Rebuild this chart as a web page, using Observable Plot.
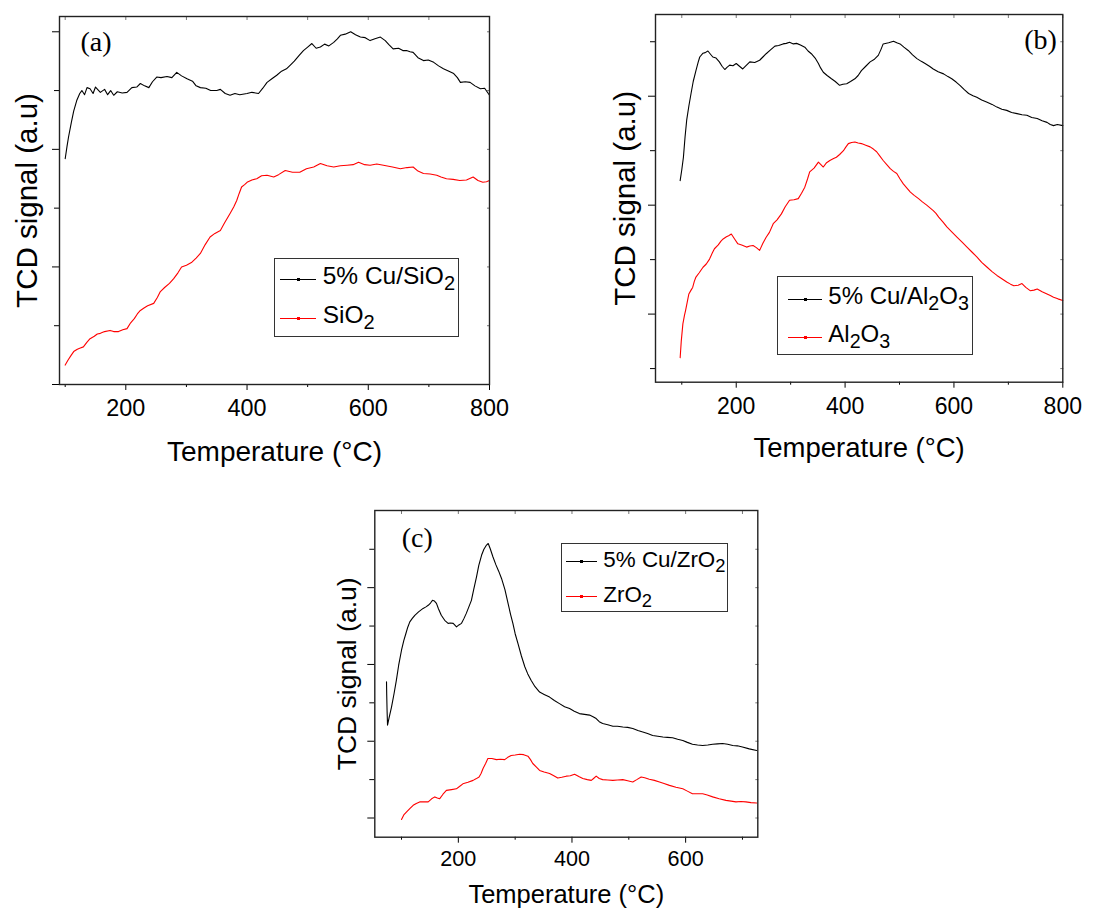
<!DOCTYPE html>
<html><head><meta charset="utf-8">
<script src="https://cdn.jsdelivr.net/npm/d3@7"></script>
<script src="https://cdn.jsdelivr.net/npm/@observablehq/plot@0.6"></script>
<style>
body{margin:0;background:#fff;width:1112px;height:912px;position:relative;overflow:hidden;font-family:"Liberation Sans",Arial,sans-serif;}
.panel{position:absolute;}
.legend{position:absolute;border:1.3px solid #333;background:#fff;box-sizing:border-box;}
.sw{position:absolute;height:0;border-top:1.2px solid;}
.dot{position:absolute;width:3px;height:3px;}
.lb{position:absolute;white-space:nowrap;line-height:1;color:#000;}
sub{font-size:82%;vertical-align:-0.28em;line-height:0}
</style></head><body>
<script>
// ---------- DATA ----------
const xLabelText = "Temperature (°C)";
const yLabelText = "TCD signal (a.u)";
const tags = ["(a)", "(b)", "(c)"];
const legendA = ["5% Cu/SiO<sub>2</sub>", "SiO<sub>2</sub>"];
const legendB = ["5% Cu/Al<sub>2</sub>O<sub>3</sub>", "Al<sub>2</sub>O<sub>3</sub>"];
const legendC = ["5% Cu/ZrO<sub>2</sub>", "ZrO<sub>2</sub>"];
const xMajorTicks = [200, 400, 600, 800];
const xMinorTicks = [100, 300, 500, 700];

// Panel (a): 5% Cu/SiO2 and SiO2
const aCu = [[100,3.84],[103,4.05],[105.5,4.21],[110,4.45],[114,4.65],[119,4.83],[124,4.95],[127.5,5.0],[132,4.93],[136,5.05],[141,5.03],[146,4.95],[150,5.06],[158,4.97],[165,5.02],[170,4.93],[175,5.0],[180,4.92],[186,4.98],[194,4.96],[202,4.97],[210,5.05],[218,5.06],[224,5.12],[231,5.08],[238,5.05],[244,5.15],[251,5.23],[258,5.22],[268,5.24],[276,5.22],[284,5.31],[292,5.25],[301,5.2],[310,5.16],[316,5.08],[323,5.05],[332,5.04],[340,5.0],[350,5.0],[356,5.02],[364,4.95],[372,4.92],[380,4.95],[388,4.93],[400,4.95],[408,4.97],[419,4.95],[426,5.04],[433,5.14],[441,5.2],[449,5.26],[457,5.33],[465,5.37],[471,5.43],[478,5.5],[486,5.6],[493,5.68],[500,5.74],[507,5.8],[514,5.72],[521,5.74],[528,5.79],[535,5.76],[543,5.82],[549,5.88],[554,5.94],[562,5.96],[571,6.0],[579,5.95],[587,5.91],[595,5.9],[603,5.85],[611,5.88],[620,5.91],[628,5.85],[634,5.78],[641,5.71],[650,5.72],[657,5.68],[663,5.68],[669,5.66],[674,5.65],[682,5.56],[691,5.51],[699,5.52],[708,5.48],[716,5.42],[724,5.37],[733,5.33],[741,5.29],[747,5.22],[752,5.14],[760,5.15],[768,5.14],[776,5.08],[785,5.03],[792,5.04],[800,4.92]];
const aSi = [[100,0.33],[105,0.42],[110,0.5],[114,0.56],[120,0.6],[125,0.62],[130,0.64],[136,0.72],[141,0.78],[148,0.82],[153,0.86],[158,0.87],[165,0.9],[174,0.92],[180,0.9],[188,0.9],[195,0.93],[202,0.95],[208,1.05],[214,1.12],[219,1.2],[224,1.26],[230,1.3],[236,1.34],[246,1.38],[252,1.48],[257,1.58],[264,1.65],[272,1.72],[279,1.8],[286,1.9],[292,2.0],[300,2.03],[309,2.08],[316,2.15],[323,2.23],[331,2.38],[339,2.51],[347,2.57],[356,2.62],[363,2.75],[372,2.91],[378,3.02],[383,3.13],[387,3.25],[391,3.36],[396,3.4],[400,3.44],[408,3.48],[416,3.5],[424,3.55],[433,3.56],[444,3.53],[452,3.57],[463,3.64],[475,3.61],[487,3.61],[498,3.67],[510,3.7],[521,3.76],[532,3.72],[543,3.7],[554,3.72],[565,3.73],[575,3.74],[584,3.78],[594,3.74],[603,3.73],[614,3.75],[625,3.73],[640,3.7],[653,3.67],[664,3.69],[674,3.7],[682,3.63],[691,3.59],[702,3.58],[713,3.56],[720,3.53],[729,3.5],[740,3.49],[751,3.47],[762,3.48],[773,3.53],[781,3.47],[789,3.44],[795,3.45],[800,3.47]];

// Panel (b): 5% Cu/Al2O3 and Al2O3
const bCu = [[97,3.45],[100,3.65],[103,3.88],[106,4.25],[109,4.56],[113,4.82],[117,5.05],[121,5.27],[126,5.47],[130,5.62],[133,5.72],[139,5.79],[143,5.8],[148,5.83],[152,5.78],[157,5.72],[163,5.7],[169,5.63],[174,5.55],[179,5.49],[183,5.53],[188,5.57],[194,5.56],[200,5.6],[206,5.55],[212,5.5],[218,5.56],[225,5.63],[234,5.62],[243,5.66],[249,5.72],[255,5.78],[263,5.85],[271,5.92],[278,5.93],[286,5.96],[292,5.97],[298,5.99],[305,5.96],[311,5.97],[318,5.94],[326,5.9],[332,5.83],[338,5.78],[345,5.7],[351,5.6],[355,5.52],[360,5.44],[367,5.38],[375,5.32],[382,5.27],[390,5.2],[396,5.22],[403,5.23],[410,5.27],[418,5.32],[424,5.38],[430,5.47],[438,5.55],[446,5.63],[454,5.68],[461,5.75],[466,5.86],[470,5.96],[480,5.98],[489,6.01],[495,5.98],[501,5.96],[508,5.9],[516,5.84],[524,5.76],[532,5.69],[540,5.64],[547,5.6],[555,5.55],[562,5.5],[571,5.45],[581,5.41],[589,5.36],[596,5.32],[604,5.26],[611,5.2],[619,5.12],[627,5.05],[635,5.01],[642,4.98],[651,4.93],[661,4.89],[670,4.85],[679,4.8],[688,4.76],[697,4.74],[706,4.7],[716,4.68],[725,4.66],[734,4.65],[743,4.61],[753,4.59],[762,4.55],[771,4.52],[777,4.48],[783,4.46],[790,4.48],[800,4.46]];
const bAl = [[97,0.2],[99,0.5],[102,0.82],[105,0.98],[107,1.07],[110,1.22],[113,1.37],[117,1.44],[120,1.49],[123,1.6],[126,1.68],[132,1.76],[139,1.86],[145,1.92],[151,2.01],[156,2.12],[160,2.2],[167,2.27],[172,2.34],[176,2.38],[182,2.42],[186,2.44],[191,2.47],[197,2.38],[203,2.29],[210,2.27],[219,2.23],[225,2.25],[231,2.26],[237,2.22],[243,2.17],[249,2.3],[255,2.41],[261,2.5],[268,2.66],[275,2.73],[283,2.84],[290,2.97],[298,3.09],[306,3.1],[314,3.12],[320,3.22],[326,3.33],[331,3.48],[335,3.61],[343,3.68],[351,3.79],[356,3.74],[360,3.7],[366,3.78],[372,3.82],[378,3.85],[384,3.88],[390,3.93],[397,4.0],[401,4.06],[406,4.13],[412,4.15],[418,4.16],[424,4.14],[430,4.13],[438,4.1],[446,4.07],[452,4.03],[458,3.98],[464,3.9],[470,3.82],[477,3.74],[483,3.67],[489,3.62],[495,3.58],[501,3.48],[507,3.39],[514,3.31],[520,3.24],[527,3.18],[535,3.12],[542,3.06],[550,3.0],[556,2.95],[562,2.9],[567,2.85],[572,2.78],[580,2.69],[587,2.6],[596,2.51],[606,2.41],[615,2.32],[624,2.23],[633,2.14],[642,2.05],[651,1.95],[661,1.86],[670,1.78],[679,1.71],[688,1.65],[697,1.59],[704,1.55],[710,1.52],[718,1.53],[725,1.56],[732,1.49],[740,1.43],[747,1.44],[753,1.46],[762,1.41],[771,1.37],[777,1.34],[783,1.31],[791,1.28],[800,1.25]];

// Panel (c): 5% Cu/ZrO2 and ZrO2
const cCu = [[73.6,3.55],[74,3.2],[74.6,2.8],[75.4,2.42],[78,2.6],[82.4,2.89],[87,3.25],[91,3.59],[95,3.98],[100,4.37],[104,4.62],[107.6,4.8],[111,4.97],[114.6,5.11],[119,5.2],[123.4,5.28],[130,5.37],[138,5.46],[143,5.5],[147,5.54],[151,5.6],[154.5,5.67],[158,5.65],[161.5,5.59],[165,5.45],[170,5.28],[176,5.15],[182,5.07],[186,5.08],[191,5.07],[196.8,4.98],[201,5.03],[205.6,5.07],[210,5.2],[214,5.33],[218,5.48],[223,5.67],[227,5.95],[232,6.28],[236,6.58],[241,6.85],[245,7.0],[249.6,7.11],[252.6,7.15],[256,7.02],[261,6.8],[266,6.6],[271,6.43],[276,6.24],[282,5.95],[287.5,5.59],[292,5.3],[296,5.07],[300,4.8],[305,4.54],[311,4.22],[317,3.94],[322,3.76],[328,3.59],[335,3.42],[343,3.28],[351,3.22],[360.6,3.15],[369,3.06],[378,2.98],[387,2.9],[395.8,2.85],[404,2.78],[413,2.72],[422,2.7],[431,2.68],[437,2.64],[442.6,2.59],[448,2.51],[454,2.46],[463,2.43],[472,2.39],[480,2.39],[489.5,2.37],[498,2.36],[507,2.33],[516,2.28],[524.6,2.24],[533,2.2],[542,2.15],[551,2.13],[560,2.11],[568,2.1],[577,2.09],[586,2.05],[595,2.02],[603,1.97],[612,1.92],[621,1.9],[630,1.89],[639,1.9],[647.6,1.92],[656,1.93],[665,1.94],[674,1.92],[683,1.89],[691,1.88],[700,1.85],[712,1.8],[725,1.76]];
const cZr = [[100,-0.04],[104,0.08],[109,0.16],[115,0.25],[120.5,0.33],[126,0.38],[132,0.42],[140,0.42],[147,0.42],[153,0.5],[158.6,0.55],[163,0.52],[167,0.5],[173,0.62],[179,0.72],[188,0.74],[196.6,0.76],[202,0.82],[208,0.89],[217,0.93],[226,0.98],[231,1.02],[236.5,1.07],[240,1.16],[243.5,1.29],[248,1.42],[252,1.55],[259,1.55],[267,1.52],[274,1.53],[281.6,1.52],[287,1.58],[293,1.63],[300,1.64],[308,1.66],[315,1.65],[322.5,1.61],[327,1.52],[331,1.42],[337,1.33],[343,1.24],[351,1.2],[360.6,1.16],[368,1.1],[375,1.04],[382,1.06],[390,1.09],[397,1.1],[404.6,1.14],[412,1.08],[419,1.03],[427,1.0],[434,0.98],[438,1.03],[442.6,1.09],[448,1.03],[454,1.0],[463,0.99],[472,0.98],[480,0.99],[489.5,1.0],[498,0.97],[507,0.94],[514,1.0],[521.7,1.07],[528,1.05],[536,1.01],[545,0.98],[554,0.94],[562,0.9],[571.5,0.85],[583,0.8],[595,0.76],[603,0.7],[612,0.63],[621,0.63],[630,0.63],[638,0.6],[647.6,0.55],[659,0.5],[671,0.46],[680,0.44],[688.6,0.42],[697,0.43],[706,0.42],[715,0.4],[725,0.39]];

// ---------- DRAWING ----------
const FONT = "Liberation Sans, Arial, sans-serif";
function panel(cfg) {
  const xy = {x: d => d[0], y: d => d[1]};
  const plot = Plot.plot({
    width: cfg.width, height: cfg.height,
    marginLeft: cfg.m[0], marginRight: cfg.m[1], marginTop: cfg.m[2], marginBottom: cfg.m[3],
    x: {domain: cfg.xDomain}, y: {domain: cfg.yDomain},
    style: {fontFamily: FONT, background: "transparent", overflow: "visible", color: "black"},
    marks: [
      Plot.axisX(cfg.xMinor, {tickSize: 3, tickFormat: () => "", label: null}),
      Plot.axisX(cfg.xMajor, {tickSize: 6, tickPadding: cfg.tickPad, fontSize: cfg.tickFont, label: null}),
      Plot.axisX([...cfg.xMajor, ...cfg.xMinor], {anchor: "top", tickSize: -3, tickFormat: () => "", label: null, stroke: "#777"}),
      Plot.axisY(cfg.yMajor, {tickSize: 7, tickFormat: () => "", label: null}),
      Plot.axisY(cfg.yMinor, {tickSize: 5, tickFormat: () => "", label: null}),
      Plot.axisY([...cfg.yMajor, ...cfg.yMinor], {anchor: "right", tickSize: -3, tickFormat: () => "", label: null, stroke: "#777"}),
      Plot.line(cfg.black, {...xy, stroke: "black", strokeWidth: 1.1}),
      Plot.line(cfg.red, {...xy, stroke: "#ff0000", strokeWidth: 1.1}),
      Plot.frame({stroke: "#222", strokeWidth: 1.4}),
      Plot.text([xLabelText], {text: d => d, frameAnchor: "bottom", textAnchor: "middle", lineAnchor: "middle", dy: cfg.xLabelDy, fontSize: cfg.xLabelSize, fill: "black"}),
      Plot.text([yLabelText], {text: d => d, frameAnchor: "left", textAnchor: "middle", lineAnchor: "middle", rotate: -90, dx: cfg.yLabelDx, fontSize: cfg.yLabelSize, fill: "black"}),
      Plot.text([cfg.tag], {text: d => d, frameAnchor: cfg.tagAnchor, textAnchor: cfg.tagAnchor === "top-left" ? "start" : "end", lineAnchor: "top", dx: cfg.tagDx, dy: cfg.tagDy, fontFamily: "Liberation Serif, Times New Roman, serif", fontSize: 28, fill: "black"})
    ]
  });
  const div = document.createElement("div");
  div.className = "panel";
  div.style.left = cfg.left + "px";
  div.style.top = cfg.top + "px";
  div.appendChild(plot);
  document.body.appendChild(div);
}

function legend(cfg) {
  const box = document.createElement("div");
  box.className = "legend";
  Object.assign(box.style, {left: cfg.box[0] + "px", top: cfg.box[1] + "px", width: cfg.box[2] + "px", height: cfg.box[3] + "px"});
  document.body.appendChild(box);
  const colors = ["black", "#ff0000"];
  cfg.labels.forEach((lab, i) => {
    const sw = document.createElement("div");
    sw.className = "sw";
    Object.assign(sw.style, {left: cfg.sw[0] + "px", width: (cfg.sw[1] - cfg.sw[0]) + "px", top: cfg.swY[i] + "px", borderColor: colors[i]});
    document.body.appendChild(sw);
    const dot = document.createElement("div");
    dot.className = "dot";
    Object.assign(dot.style, {left: ((cfg.sw[0] + cfg.sw[1]) / 2 - 1.5) + "px", top: (cfg.swY[i] - 1) + "px", background: colors[i]});
    document.body.appendChild(dot);
    const t = document.createElement("div");
    t.className = "lb";
    t.innerHTML = lab;
    Object.assign(t.style, {left: cfg.textX + "px", top: (cfg.textY[i] - 0.49 * cfg.fs) + "px", fontSize: cfg.fs + "px"});
    document.body.appendChild(t);
  });
}

panel({left: 0, top: 0, width: 500, height: 470, m: [59, 11, 16, 86],
  xDomain: [90.6, 800], yDomain: [0, 6.26],
  xMajor: xMajorTicks, xMinor: xMinorTicks, yMajor: [0, 2, 4, 6], yMinor: [1, 3, 5],
  black: aCu, red: aSi, tickFont: 23.4, tickPad: 9,
  xLabelDy: 68, xLabelSize: 28, yLabelDx: -32, yLabelSize: 29.5,
  tag: tags[0], tagAnchor: "top-left", tagDx: 21, tagDy: 15});

panel({left: 560, top: 0, width: 552, height: 470, m: [95, 49.7, 14, 88.3],
  xDomain: [51.7, 800], yDomain: [-0.25, 6.5],
  xMajor: xMajorTicks, xMinor: xMinorTicks, yMajor: [1, 3, 5], yMinor: [0, 2, 4, 6],
  black: bCu, red: bAl, tickFont: 23, tickPad: 9,
  xLabelDy: 66, xLabelSize: 27.5, yLabelDx: -30, yLabelSize: 29.5,
  tag: tags[1], tagAnchor: "top-right", tagDx: -6, tagDy: 15});

panel({left: 320, top: 480, width: 450, height: 432, m: [54.3, 12.7, 30, 75.3],
  xDomain: [53, 727], yDomain: [-0.5, 8.01],
  xMajor: [200, 400, 600], xMinor: [100, 300, 500, 700], yMajor: [0, 2, 4, 6], yMinor: [1, 3, 5, 7],
  black: cCu, red: cZr, tickFont: 21.6, tickPad: 7,
  xLabelDy: 58, xLabelSize: 25.5, yLabelDx: -27.6, yLabelSize: 26.5,
  tag: tags[2], tagAnchor: "top-left", tagDx: 27, tagDy: 17});

legend({box: [274, 258, 185, 79], labels: legendA, sw: [280, 316], swY: [279.3, 318.3], textX: 322.7, textY: [276.3, 315.5], fs: 24.5});
legend({box: [776.7, 276, 196.6, 79.3], labels: legendB, sw: [788, 822], swY: [298.7, 337.3], textX: 828.3, textY: [295.7, 334], fs: 24});
legend({box: [561, 542.7, 167.3, 69.6], labels: legendC, sw: [566, 597], swY: [561, 596], textX: 603.3, textY: [559.5, 595], fs: 22.4});
</script></body></html>
